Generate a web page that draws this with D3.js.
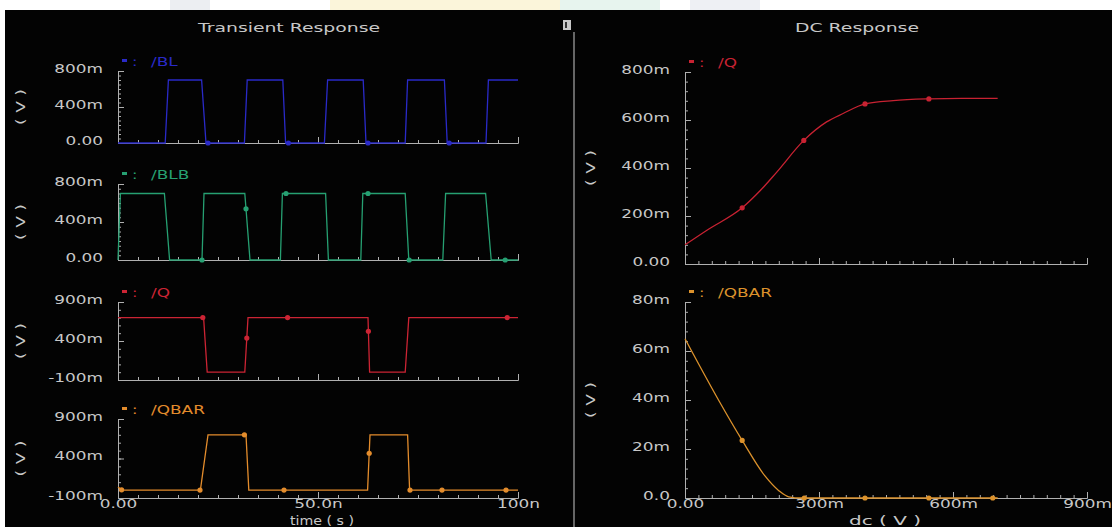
<!DOCTYPE html>
<html>
<head>
<meta charset="utf-8">
<script src="https://cdn.jsdelivr.net/npm/d3@7"></script>
<style>
  body { margin: 0; background: #fff; }
  svg { display: block; }
</style>
</head>
<body>
<svg id="chart"></svg>
<script>
// ---- transient waveforms (time in ns, volts) ----
const blTime = [0, 11.8, 12.6, 20.9, 22.0, 31.6, 32.3, 41.2, 41.9, 51.6, 52.4, 61.3, 62.0, 71.8, 72.4, 81.6, 82.3, 92.0, 92.6, 100];
const blVolt = [0, 0, 0.70, 0.70, 0, 0, 0.70, 0.70, 0, 0, 0.70, 0.70, 0, 0, 0.70, 0.70, 0, 0, 0.70, 0.70];
const blMarks = [22.5, 42.6, 62.5, 82.8];

const blbTime = [0, 0.6, 11.6, 12.9, 21.0, 21.5, 31.7, 33.0, 40.6, 41.1, 51.9, 52.6, 60.7, 61.2, 71.8, 72.7, 81.2, 81.9, 91.9, 93.3, 100];
const blbVolt = [0, 0.70, 0.70, 0, 0, 0.70, 0.70, 0, 0, 0.70, 0.70, 0, 0, 0.70, 0.70, 0, 0, 0.70, 0.70, 0, 0];
const blbMarks = [21.0, 32.0, 42.0, 62.5, 72.8, 96.8];

const qTime = [0, 21.4, 22.3, 31.7, 32.5, 62.5, 62.9, 71.8, 72.7, 100];
const qVolt = [0.70, 0.70, 0, 0, 0.70, 0.70, 0, 0, 0.70, 0.70];
const qMarks = [21.2, 32.2, 42.4, 62.6, 97.3];

const qbarTime = [0, 1.0, 20.6, 22.5, 32.0, 32.7, 62.4, 63.0, 72.4, 72.9, 100];
const qbarVolt = [0.04, 0, 0, 0.70, 0.70, 0, 0, 0.70, 0.70, 0, 0];
const qbarMarks = [0.9, 20.5, 31.6, 41.5, 62.8, 73.0, 81.0, 97.0];

// ---- DC sweep (input volts, output volts) ----
const dcIn = [0, 0.05, 0.128, 0.168, 0.205, 0.266, 0.317, 0.354, 0.403, 0.466, 0.546, 0.62, 0.70];
const dcQ = [0.080, 0.142, 0.234, 0.305, 0.382, 0.515, 0.592, 0.627, 0.667, 0.681, 0.688, 0.690, 0.690];
const dcQMarks = [0.128, 0.266, 0.403, 0.546];

const dcInBar = [0, 0.075, 0.128, 0.179, 0.210, 0.232, 0.26, 0.70];
const dcQbar = [0.065, 0.040, 0.0235, 0.009, 0.003, 0.0005, 0, 0];
const dcQbarMarks = [0.128, 0.267, 0.403, 0.546, 0.689];

// ---- ticks ----
const timeTicks = [0, 50, 100];
const timeLabels = ["0.00", "50.0n", "100n"];
const blTicks = [0, 0.4, 0.8];
const blLabels = ["0.00", "400m", "800m"];
const qTicks = [-0.1, 0.4, 0.9];
const qLabels = ["-100m", "400m", "900m"];
const dcXTicks = [0, 0.3, 0.6, 0.9];
const dcXLabels = ["0.00", "300m", "600m", "900m"];
const dcQTicks = [0, 0.2, 0.4, 0.6, 0.8];
const dcQLabels = ["0.00", "200m", "400m", "600m", "800m"];
const dcQbarTicks = [0, 0.02, 0.04, 0.06, 0.08];
const dcQbarLabels = ["0.0", "20m", "40m", "60m", "80m"];

const W = 1112, H = 527;
const FONT = "'DejaVu Sans', sans-serif";
const TEXT = "#c8c8c8";
const AXIS = "#b0b0b0";

const svg = d3.select("#chart").attr("width", W).attr("height", H);

// white page with faint watermark tints, black plot window
svg.append("rect").attr("width", W).attr("height", H).attr("fill", "#fff");
[[170, 210, "#eceef2"], [330, 560, "#fbf5da"], [560, 660, "#e7f4ee"], [690, 760, "#eef0f4"]].forEach(([a, b, c]) => {
  svg.append("rect").attr("x", a).attr("y", 0).attr("width", b - a).attr("height", 10).attr("fill", c);
});
svg.append("rect").attr("x", 5).attr("y", 10).attr("width", W - 5).attr("height", H - 10).attr("fill", "#030303");

// stretch text horizontally, the plotter font is wide
function stretch(sel, k) {
  sel.each(function () {
    const w = this.getComputedTextLength();
    if (w > 0) d3.select(this).attr("textLength", w * k).attr("lengthAdjust", "spacingAndGlyphs");
  });
}

function label(txt, x, y, opts = {}) {
  const t = svg.append("text")
    .attr("x", x).attr("y", y)
    .attr("dy", "0.35em")
    .attr("text-anchor", opts.anchor || "middle")
    .attr("fill", opts.color || TEXT)
    .attr("font-family", FONT)
    .attr("font-size", opts.size || 13)
    .text(txt);
  if (opts.rotate) t.attr("transform", `rotate(${opts.rotate},${x},${y})`);
  if (opts.width) t.attr("textLength", opts.width).attr("lengthAdjust", "spacingAndGlyphs");
  else t.call(stretch, opts.k || 1.25);
  return t;
}

function drawPlot(c) {
  const x = d3.scaleLinear().domain(c.xDom).range(c.xPix);
  const y = d3.scaleLinear().domain(c.yDom).range(c.yPix);
  const g = svg.append("g");
  const x0 = c.xPix[0], yb = c.yPix[0];

  // y axis, ticks point inward
  g.append("g").attr("transform", `translate(${x0},0)`)
    .call(d3.axisLeft(y).tickValues(c.yMinor).tickSizeInner(-3).tickSizeOuter(0).tickFormat(""));
  const ya = g.append("g").attr("transform", `translate(${x0},0)`)
    .call(d3.axisLeft(y).tickValues(c.yTicks).tickSizeInner(-6).tickSizeOuter(0).tickPadding(15)
      .tickFormat((d, i) => c.yLabels[i]));
  ya.selectAll("text").attr("dy", "0.1em");

  // x axis
  g.append("g").attr("transform", `translate(0,${yb})`)
    .call(d3.axisBottom(x).tickValues(c.xMinor).tickSizeInner(-3).tickSizeOuter(0).tickFormat(""));
  g.append("g").attr("transform", `translate(0,${yb})`)
    .call(d3.axisBottom(x).tickValues(c.xTicks).tickSizeInner(-6).tickSizeOuter(0).tickPadding(1)
      .tickFormat((d, i) => (c.xLabels ? c.xLabels[i] : "")));

  g.selectAll(".domain, .tick line").attr("stroke", AXIS).attr("stroke-width", 1);
  g.selectAll(".tick text")
    .attr("fill", TEXT)
    .attr("font-family", FONT)
    .attr("font-size", 13)
    .call(stretch, 1.3);

  // waveform
  g.append("path")
    .datum(d3.zip(c.xs, c.ys))
    .attr("fill", "none")
    .attr("stroke", c.color)
    .attr("stroke-width", 1.3)
    .attr("d", d3.line().x((d) => x(d[0])).y((d) => y(d[1])).curve(c.curve || d3.curveLinear));

  // markers sit on the trace
  const along = d3.scaleLinear().domain(c.xs).range(c.ys);
  g.selectAll("circle.mk")
    .data(c.marks)
    .join("circle")
    .attr("class", "mk")
    .attr("cx", (d) => x(d))
    .attr("cy", (d) => y(along(d)))
    .attr("r", 2.6)
    .attr("fill", c.color);

  // legend
  const ly = c.yPix[1] - 10;
  g.append("rect").attr("x", x0 + 4).attr("y", ly - 2).attr("width", 5).attr("height", 3).attr("fill", c.color);
  label(":", x0 + 14, ly, { color: c.color, anchor: "start" });
  label(c.name, x0 + 33, ly, { color: c.color, anchor: "start", k: 1.3 });

  // unit label
  label("( V )", c.vx, (c.yPix[0] + c.yPix[1]) / 2, { rotate: -90, width: 36 });
}

const tx = [118, 518];
const tMinor = d3.range(0, 100.01, 5);

drawPlot({ xDom: [0, 100], xPix: tx, xTicks: timeTicks, xMinor: tMinor,
  yDom: [0, 0.8], yPix: [143, 71], yTicks: blTicks, yLabels: blLabels, yMinor: d3.range(0, 0.801, 0.05),
  xs: blTime, ys: blVolt, marks: blMarks, color: "#2a2ac8", name: "/BL", vx: 20 });

drawPlot({ xDom: [0, 100], xPix: tx, xTicks: timeTicks, xMinor: tMinor,
  yDom: [0, 0.8], yPix: [260, 184], yTicks: blTicks, yLabels: blLabels, yMinor: d3.range(0, 0.801, 0.05),
  xs: blbTime, ys: blbVolt, marks: blbMarks, color: "#26a072", name: "/BLB", vx: 20 });

drawPlot({ xDom: [0, 100], xPix: tx, xTicks: timeTicks, xMinor: tMinor,
  yDom: [-0.1, 0.9], yPix: [380, 302], yTicks: qTicks, yLabels: qLabels, yMinor: d3.range(-0.1, 0.901, 0.1),
  xs: qTime, ys: qVolt, marks: qMarks, color: "#cc2434", name: "/Q", vx: 20 });

drawPlot({ xDom: [0, 100], xPix: tx, xTicks: timeTicks, xLabels: timeLabels, xMinor: tMinor,
  yDom: [-0.1, 0.9], yPix: [498, 419], yTicks: qTicks, yLabels: qLabels, yMinor: d3.range(-0.1, 0.901, 0.1),
  xs: qbarTime, ys: qbarVolt, marks: qbarMarks, color: "#e38c2c", name: "/QBAR", vx: 20 });

const dx = [685, 1087];
const dcMinor = d3.range(0, 0.9001, 0.03);

drawPlot({ xDom: [0, 0.9], xPix: dx, xTicks: dcXTicks, xMinor: dcMinor,
  yDom: [0, 0.8], yPix: [264, 72], yTicks: dcQTicks, yLabels: dcQLabels, yMinor: d3.range(0, 0.801, 0.04),
  xs: dcIn, ys: dcQ, marks: dcQMarks, color: "#c82232", name: "/Q", vx: 590, curve: d3.curveMonotoneX });

drawPlot({ xDom: [0, 0.9], xPix: dx, xTicks: dcXTicks, xLabels: dcXLabels, xMinor: dcMinor,
  yDom: [0, 0.08], yPix: [498, 302], yTicks: dcQbarTicks, yLabels: dcQbarLabels, yMinor: d3.range(0, 0.0801, 0.004),
  xs: dcInBar, ys: dcQbar, marks: dcQbarMarks, color: "#dc922c", name: "/QBAR", vx: 590, curve: d3.curveMonotoneX });

// titles and axis names
label("Transient Response", 289, 27, { width: 182 });
label("DC Response", 857, 27, { width: 124 });
label("time ( s )", 322, 521, { width: 64, size: 12 });
label("dc ( V )", 885, 521, { width: 72, size: 12 });

// panel divider and its little box
svg.append("line").attr("x1", 574).attr("x2", 574).attr("y1", 32).attr("y2", H)
  .attr("stroke", "#a8a8a8").attr("stroke-width", 1.2);
svg.append("rect").attr("x", 563).attr("y", 20).attr("width", 8).attr("height", 10).attr("fill", "#c8c8c8");
svg.append("rect").attr("x", 565).attr("y", 22).attr("width", 2).attr("height", 6).attr("fill", "#333");
</script>
</body>
</html>
